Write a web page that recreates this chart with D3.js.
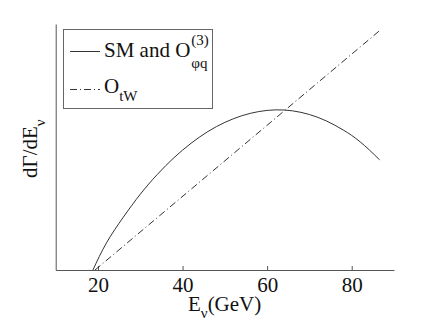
<!DOCTYPE html>
<html>
<head>
<meta charset="UTF-8">
<title>dGamma/dE</title>
<style>
  body { margin: 0; background: #fff; }
  svg text { font-family: "Liberation Serif", "Times New Roman", "DejaVu Serif", serif !important; fill: #111; }
</style>
</head>
<body>
<div id="chart"></div>
<script src="https://cdn.jsdelivr.net/npm/d3@7"></script>
<script>
// values (y in arbitrary units, the original has no y ticks)
const smEnergy = [18.8, 22, 26, 30, 34, 38, 42, 46, 50, 54, 58, 62, 66, 70, 74, 78, 82, 86.6];
const smRate   = [0, 1.1, 2.15, 3.08, 3.88, 4.57, 5.15, 5.63, 6.0, 6.27, 6.44, 6.51, 6.47, 6.32, 6.06, 5.69, 5.21, 4.48];
const twEnergy = [19.3, 86.6];
const twRate   = [0, 9.73];
const xTicks = [20, 40, 60, 80];

const W = 436, H = 327;
const svg = d3.select("#chart").append("svg")
    .attr("width", W)
    .attr("height", H);

const x = d3.scaleLinear().domain([10, 90]).range([55.7, 394]);
const y = d3.scaleLinear().domain([0, 10]).range([270, 24]);

const axisColor = "#555";

// x axis, ticks pointing inwards
const gx = svg.append("g").attr("transform", "translate(0,270)")
    .call(d3.axisBottom(x).tickValues(xTicks).tickSizeInner(-4).tickSizeOuter(0).tickPadding(7));
gx.select(".domain").attr("stroke", axisColor);
gx.selectAll(".tick line").attr("stroke", axisColor);
gx.selectAll(".tick text").attr("font-size", 21).attr("fill", "#111");

// y axis is only a line
const gy = svg.append("g").attr("transform", "translate(55.7,0)")
    .call(d3.axisLeft(y).tickValues([]).tickSizeOuter(0));
gy.select(".domain").attr("stroke", axisColor);

// curves
const line = d3.line().x(d => x(d[0])).y(d => y(d[1])).curve(d3.curveNatural);
svg.append("path")
    .attr("d", line(d3.zip(smEnergy, smRate)))
    .attr("fill", "none").attr("stroke", "#333").attr("stroke-width", 1);
svg.append("path")
    .attr("d", line(d3.zip(twEnergy, twRate)))
    .attr("fill", "none").attr("stroke", "#333").attr("stroke-width", 1)
    .attr("stroke-dasharray", "7,3,1,3");

// axis titles
const xt = svg.append("text").attr("x", 188).attr("y", 311).attr("font-size", 21);
xt.append("tspan").text("E");
xt.append("tspan").attr("font-size", 15).attr("dy", 7).text("ν");
xt.append("tspan").attr("dy", -7).text("(GeV)");

const yt = svg.append("text").attr("transform", "translate(37,178) rotate(-90)").attr("font-size", 21);
yt.append("tspan").text("dΓ/dE");
yt.append("tspan").attr("font-size", 15).attr("dy", 8).text("ν");

// legend
svg.append("rect").attr("x", 63.5).attr("y", 29.5).attr("width", 149).attr("height", 79)
    .attr("fill", "#fff").attr("stroke", "#666").attr("stroke-width", 1);

svg.append("line").attr("x1", 70).attr("x2", 100).attr("y1", 51.5).attr("y2", 51.5)
    .attr("stroke", "#333");
const l1 = svg.append("text").attr("x", 104).attr("y", 57).attr("font-size", 21).text("SM and O");
const w1 = l1.node().getComputedTextLength();
svg.append("text").attr("x", 104 + w1 + 1).attr("y", 45).attr("font-size", 15).text("(3)");
svg.append("text").attr("x", 104 + w1 + 1).attr("y", 68).attr("font-size", 15).text("φq");

svg.append("line").attr("x1", 70).attr("x2", 100).attr("y1", 89.5).attr("y2", 89.5)
    .attr("stroke", "#333").attr("stroke-dasharray", "7,3,1,3");
const l2 = svg.append("text").attr("x", 104).attr("y", 93).attr("font-size", 21);
l2.append("tspan").text("O");
l2.append("tspan").attr("font-size", 15).attr("dy", 8).text("tW");
</script>
</body>
</html>
